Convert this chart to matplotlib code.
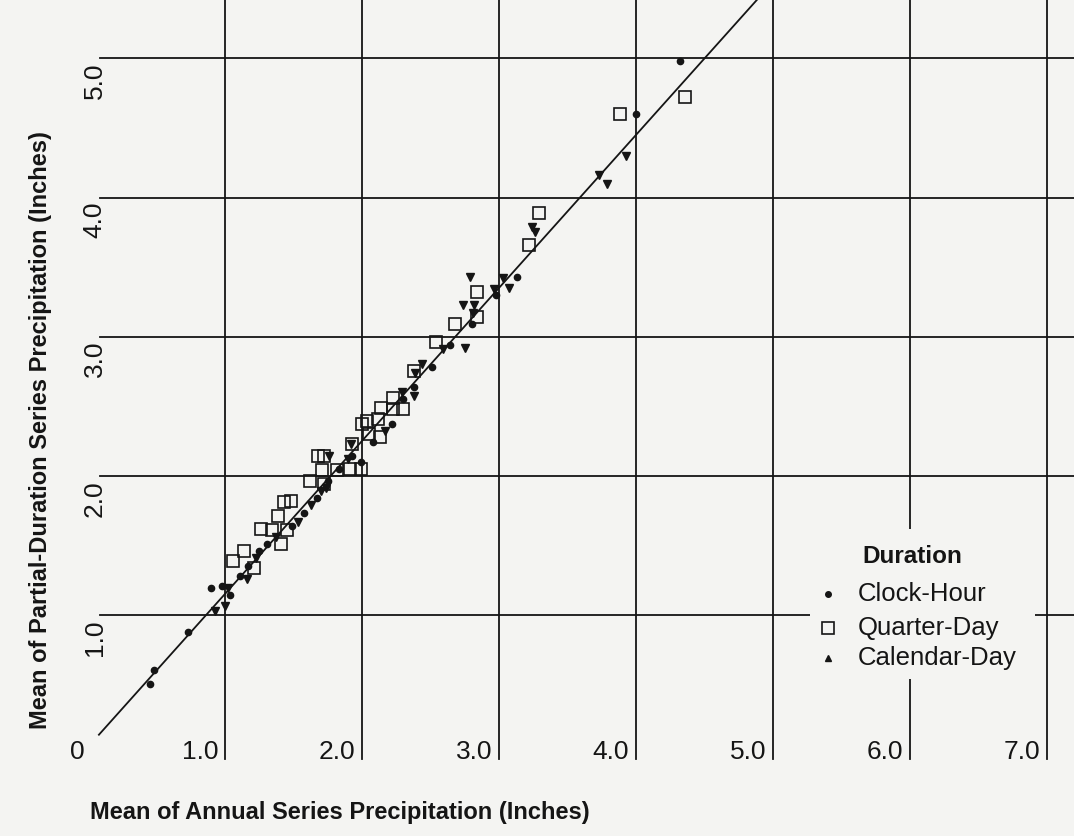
"""
Mean of partial-duration series vs mean of annual series precipitation,
by duration (clock-hour, quarter-day, calendar-day), with fitted line.
"""
import numpy as np
import matplotlib
matplotlib.use("Agg")
import matplotlib.pyplot as plt
from matplotlib.patches import Rectangle

plt.rcParams['font.family'] = ['Liberation Sans', 'DejaVu Sans']

# values (inches)
clock_x = [0.45, 0.48, 0.73, 0.90, 0.98, 1.04, 1.11, 1.17, 1.25, 1.31,
           1.49, 1.58, 1.67, 1.75, 1.83, 1.93, 1.99, 2.08, 2.22, 2.30,
           2.38, 2.51, 2.64, 2.80, 2.98, 3.13, 4.00, 4.32]
clock_y = [0.50, 0.60, 0.88, 1.19, 1.21, 1.14, 1.28, 1.35, 1.46, 1.51,
           1.64, 1.73, 1.84, 1.96, 2.05, 2.14, 2.10, 2.24, 2.37, 2.55,
           2.64, 2.78, 2.94, 3.09, 3.30, 3.43, 4.60, 4.98]

quarter_x = [1.06, 1.14, 1.21, 1.26, 1.34, 1.45, 1.41, 1.39, 1.43, 1.48,
             1.62, 1.72, 1.68, 1.72, 1.71, 1.82, 1.91, 1.99, 1.93, 2.00,
             2.04, 2.05, 2.13, 2.12, 2.14, 2.23, 2.30, 2.23, 2.38, 2.54,
             2.68, 2.84, 2.84, 3.22, 3.29, 3.88, 4.36]
quarter_y = [1.39, 1.46, 1.34, 1.62, 1.61, 1.61, 1.51, 1.71, 1.81, 1.82,
             1.96, 1.94, 2.14, 2.14, 2.04, 2.04, 2.05, 2.05, 2.23, 2.37,
             2.39, 2.30, 2.28, 2.41, 2.49, 2.48, 2.48, 2.56, 2.75, 2.96,
             3.09, 3.14, 3.32, 3.66, 3.89, 4.60, 4.72]

calendar_x = [0.93, 1.00, 1.02, 1.16, 1.23, 1.37, 1.53, 1.63, 1.70, 1.74,
              1.76, 1.90, 1.92, 2.17, 2.29, 2.38, 2.39, 2.44, 2.59, 2.75,
              2.74, 2.79, 2.82, 2.81, 2.96, 3.03, 3.07, 3.24, 3.26, 3.73,
              3.79, 3.93]
calendar_y = [1.03, 1.06, 1.19, 1.26, 1.41, 1.56, 1.67, 1.79, 1.89, 1.91,
              2.14, 2.12, 2.23, 2.32, 2.60, 2.57, 2.74, 2.80, 2.91, 2.92,
              3.23, 3.43, 3.23, 3.17, 3.34, 3.42, 3.35, 3.79, 3.75, 4.16,
              4.10, 4.30]

# fitted relation drawn through the points
FIT_INTERCEPT = 0.05
FIT_SLOPE = 1.10
fit_x = np.array([0.08, 4.92])
fit_y = FIT_INTERCEPT + FIT_SLOPE * fit_x

x_ticks = [1, 2, 3, 4, 5, 6, 7]
x_ticklabels = ['1.0', '2.0', '3.0', '4.0', '5.0', '6.0', '7.0']
y_ticks = [1, 2, 3, 4, 5]
y_ticklabels = ['1.0', '2.0', '3.0', '4.0', '5.0']

legend_title = 'Duration'
legend_labels = ['Clock-Hour', 'Quarter-Day', 'Calendar-Day']

BG = '#f4f4f2'
INK = '#151515'


def draw_legend(ax):
    """Legend laid out by hand so the title sits over the labels and the
    backing box blanks out the grid behind it, as in the original."""
    ax.add_patch(Rectangle((5.27, 0.54), 1.64, 1.08, facecolor=BG,
                           edgecolor='none', zorder=5))
    ax.text(5.65, 1.42, legend_title, ha='left', va='center', fontsize=17.5,
            fontweight='bold', color=INK, zorder=6)
    rows = [1.15, 0.905, 0.69]
    styles = [dict(marker='o', ms=4, color=INK),
              dict(marker='s', ms=8, mfc='none', mec=INK, mew=1.2),
              dict(marker='^', ms=5, color=INK)]
    for y, lab, st in zip(rows, legend_labels, styles):
        ax.plot([5.40], [y], ls='none', zorder=6, **st)
        ax.text(5.62, y, lab, ha='left', va='center', fontsize=18.5,
                color=INK, zorder=6)


def main():
    fig = plt.figure(figsize=(10.74, 8.36), dpi=100, facecolor=BG)
    ax = fig.add_axes([0, 0, 1, 1], facecolor=BG)
    ax.set_xlim(-0.642, 7.197)
    ax.set_ylim(-0.59, 5.42)
    ax.axis('off')

    # grid lines stop short of their labels, as drawn in the original
    for k, lab in zip(x_ticks, x_ticklabels):
        ax.plot([k, k], [-0.04, 5.6], color=INK, lw=1.3, zorder=1)
        ax.text(k - 0.05, -0.04, lab, ha='right', va='baseline',
                fontsize=19, color=INK)
    ax.text(-0.08, -0.04, '0', ha='center', va='baseline', fontsize=19, color=INK)
    for k, lab in zip(y_ticks, y_ticklabels):
        ax.plot([0.09, 7.4], [k, k], color=INK, lw=1.3, zorder=1)
        ax.text(0.05, k - 0.03, lab, ha='center', va='top', rotation=90,
                fontsize=19, color=INK)

    ax.plot(fit_x, fit_y, color=INK, lw=1.3, zorder=2)

    ax.plot(quarter_x, quarter_y, ls='none', marker='s', ms=9, mfc='none',
            mec=INK, mew=1.2, zorder=3)
    ax.plot(calendar_x, calendar_y, ls='none', marker='v', ms=5.5,
            color=INK, zorder=4)
    ax.plot(clock_x, clock_y, ls='none', marker='o', ms=4.5,
            color=INK, zorder=4)

    ax.text(-0.35, 2.33, 'Mean of Partial-Duration Series Precipitation (Inches)',
            rotation=90, ha='center', va='center', fontsize=17,
            fontweight='bold', color=INK)
    ax.text(1.84, -0.42, 'Mean of Annual Series Precipitation (Inches)',
            ha='center', va='center', fontsize=17, fontweight='bold', color=INK)

    draw_legend(ax)

    fig.savefig('out.png', dpi=100, facecolor=BG)
    plt.close(fig)


if __name__ == "__main__":
    main()
